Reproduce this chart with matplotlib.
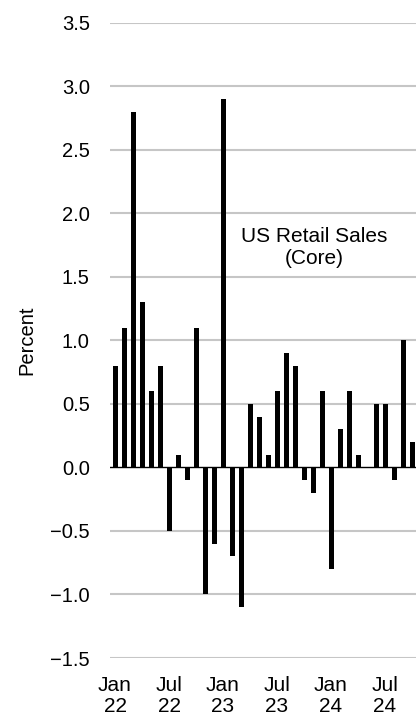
import numpy as np
import matplotlib
matplotlib.use("Agg")
import matplotlib.pyplot as plt

# 月度核心零售销售环比（%），2022年1月 - 2024年10月
months = ["Jan 22", "Feb 22", "Mar 22", "Apr 22", "May 22", "Jun 22",
          "Jul 22", "Aug 22", "Sep 22", "Oct 22", "Nov 22", "Dec 22",
          "Jan 23", "Feb 23", "Mar 23", "Apr 23", "May 23", "Jun 23",
          "Jul 23", "Aug 23", "Sep 23", "Oct 23", "Nov 23", "Dec 23",
          "Jan 24", "Feb 24", "Mar 24", "Apr 24", "May 24", "Jun 24",
          "Jul 24", "Aug 24", "Sep 24", "Oct 24"]
values = [0.8, 1.1, 2.8, 1.3, 0.6, 0.8,
          -0.5, 0.1, -0.1, 1.1, -1.0, -0.6,
          2.9, -0.7, -1.1, 0.5, 0.4, 0.1,
          0.6, 0.9, 0.8, -0.1, -0.2, 0.6,
          -0.8, 0.3, 0.6, 0.1, 0.0, 0.5,
          0.5, -0.1, 1.0, 0.2]
tick_labels = ["Jan\n22", "Jul\n22", "Jan\n23", "Jul\n23", "Jan\n24", "Jul\n24"]
y_ticks = [-1.5, -1.0, -0.5, 0.0, 0.5, 1.0, 1.5, 2.0, 2.5, 3.0, 3.5]

plt.rcParams["font.family"] = ["Liberation Sans", "DejaVu Sans"]
plt.rcParams["font.size"] = 14.5

W, H = 416, 716
fig = plt.figure(figsize=(W / 100, H / 100), dpi=100)
ax = fig.add_axes([110 / W, 1 - 658 / H, (W - 110) / W, (658 - 22.7) / H])

x = np.arange(len(values))
ax.bar(x, values, width=0.55, color="black", zorder=3)

# 网格线与零线
for v in y_ticks:
    if v == 0:
        ax.axhline(v, color="black", lw=1.0, zorder=4)
    else:
        ax.axhline(v, color="#c6c6c6", lw=1.5, zorder=1)

ax.set_ylim(-1.5, 3.5)
ax.set_xlim(-0.56, 33.44)
ax.set_yticks(y_ticks)
ax.set_yticklabels([f"{v:.1f}".replace("-", "\u2212") for v in y_ticks])
ax.set_xticks(x[::6])
ax.set_xticklabels(tick_labels, linespacing=1.1, fontsize=15)
ax.tick_params(axis="y", length=0, pad=14.5)
ax.tick_params(axis="x", length=0, pad=13)
for s in ax.spines.values():
    s.set_visible(False)

ax.set_ylabel("Percent", labelpad=10)

ax.text(22.1, 1.73, "US Retail Sales\n(Core)", ha="center", va="center",
        linespacing=1.2, fontsize=15)

fig.savefig("out.png", dpi=100)
